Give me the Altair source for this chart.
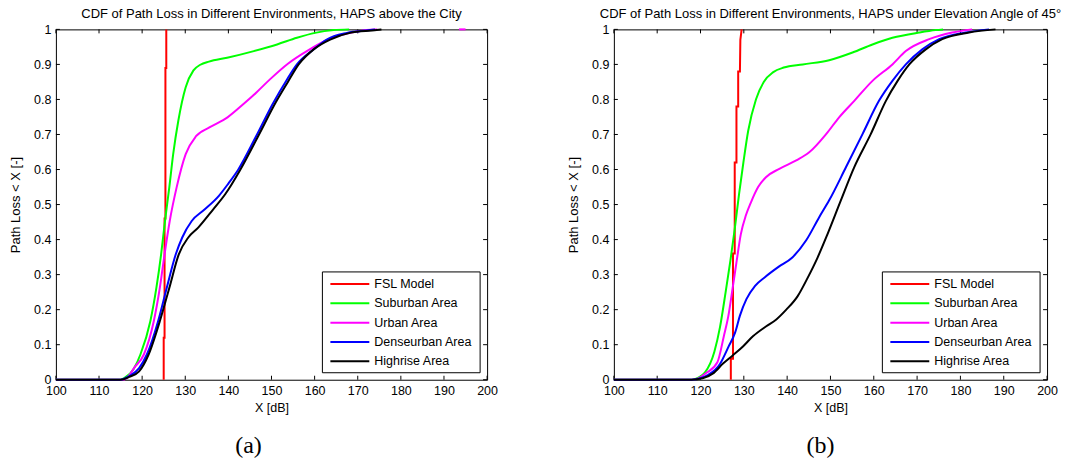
import altair as alt
import pandas as pd

SERIES = ["FSL Model", "Suburban Area", "Urban Area", "Denseurban Area", "Highrise Area"]
COLORS = ["#ff0000", "#00ff00", "#ff00ff", "#0000ff", "#000000"]
X_TICKS = list(range(100, 201, 10))
Y_TICKS = [round(i / 10, 1) for i in range(11)]

TITLE_A = "CDF of Path Loss in Different Environments, HAPS above the City"
TITLE_B = "CDF of Path Loss in Different Environments, HAPS under Elevation Angle of 45°"
X_TITLE = "X [dB]"
Y_TITLE = "Path Loss < X [-]"
CAPTIONS = ["(a)", "(b)"]

# ---------------- panel (a): HAPS above the city ----------------
A_FSL_X = [125.0, 125.0, 125.2, 125.2, 125.4, 125.4, 125.6, 125.6]
A_FSL_Y = [0.0, 0.12, 0.12, 0.46, 0.46, 0.89, 0.89, 1.0]

A_SUB_X = [100, 115, 116, 118, 119.6, 121.9, 123.3, 124.4, 125.3, 126.3, 127.2, 128.4,
           130.1, 131.9, 133.5, 135.5, 139.7, 145.9, 151.3, 155.9, 160.1, 164.4, 168]
A_SUB_Y = [0, 0, 0.006, 0.03, 0.072, 0.167, 0.262, 0.358, 0.453, 0.549, 0.644, 0.740,
           0.835, 0.883, 0.899, 0.908, 0.919, 0.938, 0.957, 0.976, 0.99, 0.998, 1.0]

A_URB_X = [100, 115.5, 117, 118.1, 120.4, 122.7, 124.1, 125.2, 126.4, 128.0, 130.1, 132.5,
           135.6, 139.8, 143.5, 146.5, 149.7, 153.8, 158.2, 163.2, 168.2, 172.1, 174.5]
A_URB_Y = [0, 0, 0.012, 0.033, 0.072, 0.167, 0.262, 0.358, 0.453, 0.549, 0.644, 0.695,
           0.720, 0.749, 0.787, 0.820, 0.858, 0.902, 0.938, 0.971, 0.99, 0.998, 1.0]
# single outlier sample of the urban CDF, seen as a short segment at the top
A_URB_TAIL_X = [193.5, 195.0]
A_URB_TAIL_Y = [1.0, 1.0]

A_DEN_X = [100, 115, 117, 119.3, 121.1, 123.7, 125.7, 127.8, 129.3, 131.5, 134.4, 137.8,
           140, 142.2, 146.4, 150.4, 153.5, 155.9, 159.8, 162.8, 167.5, 172.9, 174]
A_DEN_Y = [0, 0, 0.01, 0.033, 0.072, 0.167, 0.262, 0.358, 0.406, 0.453, 0.485, 0.525,
           0.56, 0.598, 0.694, 0.790, 0.855, 0.9, 0.943, 0.971, 0.99, 0.998, 1.0]

A_HIG_X = [100, 115, 117, 119.3, 121.5, 124.1, 126.3, 128.5, 130.7, 133.0, 136.4, 139.3,
           142.7, 146.9, 151.0, 153.8, 156.3, 160, 163.6, 168.2, 174.4, 175.5]
A_HIG_Y = [0, 0, 0.008, 0.024, 0.072, 0.167, 0.262, 0.358, 0.406, 0.434, 0.485, 0.530,
           0.598, 0.695, 0.792, 0.85, 0.9, 0.945, 0.971, 0.99, 0.998, 1.0]

# ---------------- panel (b): elevation angle 45 deg ----------------
B_FSL_X = [127.0, 127.0, 127.5, 127.5, 127.9, 127.9, 128.3, 128.3, 128.7, 128.7, 129.1, 129.2, 129.5]
B_FSL_Y = [0.0, 0.06, 0.06, 0.36, 0.36, 0.62, 0.62, 0.78, 0.78, 0.88, 0.88, 0.97, 1.0]

B_SUB_X = [100, 118, 119.5, 121, 123.2, 124.5, 125.8, 126.9, 127.9, 128.9, 129.9, 131.0,
           132.8, 134.6, 136.8, 139.2, 143.6, 149.7, 155.1, 159.7, 164.3, 170.5, 174.3, 176]
B_SUB_Y = [0, 0, 0.006, 0.02, 0.08, 0.15, 0.25, 0.34, 0.43, 0.53, 0.62, 0.71,
           0.80, 0.85, 0.878, 0.891, 0.90, 0.912, 0.934, 0.957, 0.976, 0.991, 0.998, 1.0]

B_URB_X = [100, 118, 119.5, 121.3, 123.9, 125.4, 126.4, 127.4, 128.3, 129.3, 130.5, 131.6,
           133.3, 135.1, 138.2, 142.1, 145.1, 149.0, 152.0, 155.5, 159.7, 164.3, 167.4,
           172.8, 178.1, 182.7]
B_URB_Y = [0, 0, 0.004, 0.019, 0.05, 0.125, 0.18, 0.26, 0.335, 0.415, 0.47, 0.505,
           0.55, 0.578, 0.602, 0.626, 0.649, 0.701, 0.749, 0.796, 0.853, 0.90, 0.938,
           0.972, 0.991, 1.0]

B_DEN_X = [100, 118, 120, 121.8, 124.5, 126.5, 128.0, 129.1, 130.6, 132.6, 135.0, 138.0,
           141.2, 144.4, 147.4, 149.7, 153.6, 157.4, 161.2, 164.3, 167.4, 171.2, 175.1,
           181.2, 186.6]
B_DEN_Y = [0, 0, 0.004, 0.014, 0.045, 0.095, 0.135, 0.183, 0.23, 0.268, 0.294, 0.322,
           0.349, 0.398, 0.464, 0.512, 0.607, 0.701, 0.796, 0.853, 0.90, 0.943, 0.972,
           0.991, 1.0]

B_HIG_X = [100, 118, 120.5, 122.9, 125.2, 127.5, 129.8, 132.1, 135.1, 137.5, 139.8, 142.4,
           144.7, 147.0, 149.3, 152.4, 155.5, 159.3, 162.8, 165.5, 168.2, 172.0, 175.8,
           182.0, 188.1]
B_HIG_Y = [0, 0, 0.004, 0.018, 0.046, 0.07, 0.095, 0.124, 0.152, 0.172, 0.2, 0.238,
           0.29, 0.348, 0.415, 0.512, 0.607, 0.701, 0.796, 0.853, 0.90, 0.943, 0.972,
           0.991, 1.0]

PANEL_A = [(A_FSL_X, A_FSL_Y), (A_SUB_X, A_SUB_Y), (A_URB_X, A_URB_Y), (A_DEN_X, A_DEN_Y), (A_HIG_X, A_HIG_Y)]
PANEL_B = [(B_FSL_X, B_FSL_Y), (B_SUB_X, B_SUB_Y), (B_URB_X, B_URB_Y), (B_DEN_X, B_DEN_Y), (B_HIG_X, B_HIG_Y)]

FONT = "Liberation Sans"
ONE = pd.DataFrame({"k": [0]})


def make_df(panel):
    parts = []
    for name, (xs, ys) in zip(SERIES, panel):
        parts.append(pd.DataFrame({"x": xs, "y": ys, "series": name, "i": list(range(len(xs)))}))
    return pd.concat(parts, ignore_index=True)


def build_panel(title, panel, caption, W, H, cap_x, anchors, tail=None):
    xs = alt.Scale(domain=[100, 200], nice=False, zero=False)
    ys = alt.Scale(domain=[0, 1], nice=False, zero=False)
    cs = alt.Scale(domain=SERIES, range=COLORS)
    df = make_df(panel)
    base = alt.Chart(df)

    x_axis = alt.Axis(values=X_TICKS, format="d", ticks=False, tickSize=0, domain=False, grid=False,
                      labelFlush=False, labelOverlap=False,
                      labelFont=FONT, labelFontSize=12.5, labelColor="black", labelPadding=5,
                      title=X_TITLE, titleFont=FONT, titleFontSize=12.5, titleFontWeight="normal",
                      titleColor="black", titlePadding=4)
    y_axis = alt.Axis(values=Y_TICKS, format="~g", ticks=False, tickSize=0, domain=False, grid=False,
                      labelFlush=False, labelOverlap=False,
                      labelFont=FONT, labelFontSize=12.5, labelColor="black", labelPadding=5,
                      title=Y_TITLE, titleFont=FONT, titleFontSize=13, titleFontWeight="normal",
                      titleColor="black", titlePadding=11)

    X = lambda f: alt.X(f, scale=xs, axis=x_axis)
    Y = lambda f: alt.Y(f, scale=ys, axis=y_axis)
    C = alt.Color("series:N", scale=cs, legend=None)

    red = base.transform_filter(alt.datum.series == SERIES[0]).mark_line(
        strokeWidth=2, interpolate="linear").encode(
        x=X("x:Q"), y=Y("y:Q"), color=C, order=alt.Order("i:Q"))
    curves = base.transform_filter(alt.datum.series != SERIES[0]).mark_line(
        strokeWidth=2, interpolate="monotone").encode(
        x=X("x:Q"), y=Y("y:Q"), color=C, order=alt.Order("i:Q"))
    data_layers = [red, curves]
    if tail is not None:
        name, tx, ty = tail
        tdf = pd.DataFrame({"x": tx, "y": ty, "series": name})
        data_layers.insert(1, alt.Chart(tdf).mark_line(strokeWidth=2).encode(
            x=X("x:Q"), y=Y("y:Q"), color=C))

    xt = alt.Chart(pd.DataFrame({"x": X_TICKS})).mark_rule(color="black", strokeWidth=1)
    yt = alt.Chart(pd.DataFrame({"y": Y_TICKS})).mark_rule(color="black", strokeWidth=1)
    ticks = [
        xt.encode(x=X("x:Q"), y=alt.value(H), y2=alt.value(H - 4)),
        xt.encode(x=X("x:Q"), y=alt.value(0), y2=alt.value(4)),
        yt.encode(y=Y("y:Q"), x=alt.value(0), x2=alt.value(4)),
        yt.encode(y=Y("y:Q"), x=alt.value(W), x2=alt.value(W - 4)),
    ]

    box = alt.Chart(ONE).mark_rect(fill="white", stroke="black", strokeWidth=1).encode(
        x=alt.value(W - 165), x2=alt.value(W - 7), y=alt.value(H - 108), y2=alt.value(H - 7))
    leg = [box]
    for i, (name, col) in enumerate(zip(SERIES, COLORS)):
        yy = H - 96 + 19.4 * i
        leg.append(alt.Chart(ONE).mark_rule(color=col, strokeWidth=2).encode(
            x=alt.value(W - 157), x2=alt.value(W - 118), y=alt.value(yy)))
        leg.append(alt.Chart(ONE).mark_text(align="left", baseline="middle", font=FONT,
                                            fontSize=12.5, color="black").encode(
            x=alt.value(W - 113), y=alt.value(yy), text=alt.value(name)))

    ttl = alt.Chart(ONE).mark_text(align="center", baseline="middle", font=FONT,
                                   fontSize=13, color="black").encode(
        x=alt.value(W / 2), y=alt.value(-15), text=alt.value(title))

    cap = alt.Chart(ONE).mark_text(align="center", baseline="middle", font="Liberation Serif",
                                   fontSize=24, color="black").encode(
        x=alt.value(cap_x), y=alt.value(417), text=alt.value(caption))

    anc = [alt.Chart(ONE).mark_rule(color="white", strokeWidth=1).encode(
        x=alt.value(ax), x2=alt.value(ax + 1), y=alt.value(ay)) for ax, ay in anchors]

    layers = anc + ticks + data_layers + leg + [ttl, cap]
    return alt.layer(*layers).properties(width=W, height=H)


WA, WB, H = 432, 434, 351
pa = build_panel(TITLE_A, PANEL_A, CAPTIONS[0], WA, H, 193, [(-55, -28)],
                 tail=(SERIES[2], A_URB_TAIL_X, A_URB_TAIL_Y))
pb = build_panel(TITLE_B, PANEL_B, CAPTIONS[1], WB, H, 207, [(WB + 30, H + 84)])

chart = alt.hconcat(pa, pb, spacing=127, bounds="flush").properties(
    padding=0, background="white"
).configure_view(stroke="black", strokeWidth=1)

chart.save("out.html", embed_options={"renderer": "svg", "actions": False})
